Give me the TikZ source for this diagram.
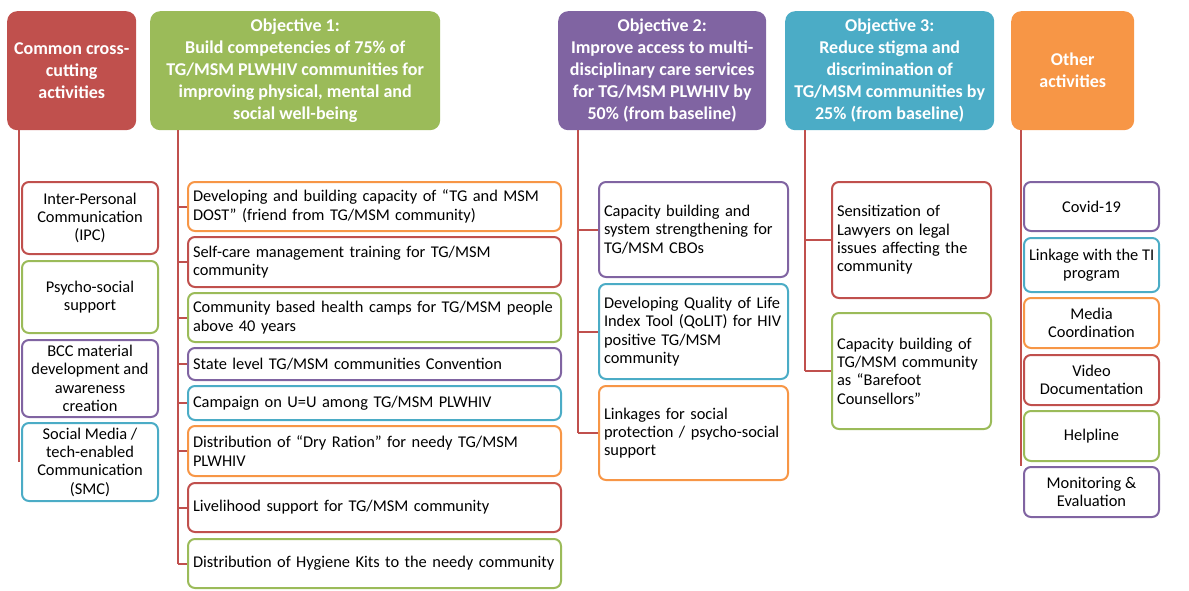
\documentclass[tikz,border=0pt]{standalone}
\usepackage{fontspec}
\setmainfont{Carlito}
\usepackage{xcolor}
\usepackage{tikz}
\definecolor{cRed}{HTML}{C0504D}
\definecolor{cGreen}{HTML}{9BBB59}
\definecolor{cPurple}{HTML}{8064A2}
\definecolor{cCyan}{HTML}{4BACC6}
\definecolor{cOrange}{HTML}{F79646}
\tikzset{
  head/.style={anchor=north west,rounded corners=10pt,text=white,align=center,
    inner sep=0pt,minimum height=119pt,font=\fontsize{18}{22}\selectfont\bfseries},
  item/.style={anchor=north west,draw=#1,line width=2pt,rounded corners=7pt,fill=white,
    inner xsep=5pt,inner ysep=0pt,font=\fontsize{16.4}{18.3}\selectfont},
  midbox/.style={item=#1,align=center,minimum width=136pt},
  trunk/.style={draw=cRed,line width=2pt},
}
\begin{document}
\begin{tikzpicture}[x=1pt,y=-1pt]
    \useasboundingbox (0,0) rectangle (1189,591);
    % headers
    \node[head,fill=cRed,minimum width=129pt] (common) at (7,11) {Common cross-\\cutting\\activities};
    \node[head,fill=cGreen,minimum width=290pt] (obj1) at (150,11) {Objective 1:\\Build competencies of 75\% of\\TG/MSM PLWHIV communities for\\improving physical, mental and\\social well-being};
    \node[head,fill=cPurple,minimum width=208pt] (obj2) at (558,11) {Objective 2:\\Improve access to multi-\\disciplinary care services\\for TG/MSM PLWHIV by\\50\% (from baseline)};
    \node[head,fill=cCyan,minimum width=209pt] (obj3) at (785,11) {Objective 3:\\Reduce stigma and\\discrimination of\\TG/MSM communities by\\25\% (from baseline)};
    \node[head,fill=cOrange,minimum width=123pt] (other) at (1011,11) {Other\\activities};
    % common cross-cutting activities
    \node[midbox=cRed,minimum height=72pt] (cc1) at (21,181) {Inter-Personal\\Communication\\(IPC)};
    \node[midbox=cGreen,minimum height=72pt] (cc2) at (21,260) {Psycho-social\\support};
    \node[midbox=cPurple,minimum height=77pt] (cc3) at (21,339) {BCC material\\development and\\awareness\\creation};
    \node[midbox=cCyan,minimum height=78pt] (cc4) at (21,422) {Social Media /\\tech-enabled\\Communication\\(SMC)};
    % objective 1
    \tikzset{oneb/.style={item=#1,align=left,text width=363pt,minimum width=373pt}}
    \node[oneb=cOrange,minimum height=49pt] (oa1) at (187,181) {Developing and building capacity of “TG and MSM\\DOST” (friend from TG/MSM community)};
    \node[oneb=cRed,minimum height=50pt] (oa2) at (187,236) {Self-care management training for TG/MSM\\community};
    \node[oneb=cGreen,minimum height=49pt] (oa3) at (187,292) {Community based health camps for TG/MSM people\\above 40 years};
    \node[oneb=cPurple,minimum height=32pt] (oa4) at (187,347) {State level TG/MSM communities Convention};
    \node[oneb=cCyan,minimum height=34pt] (oa5) at (187,385) {Campaign on U=U among TG/MSM PLWHIV};
    \node[oneb=cOrange,minimum height=50pt] (oa6) at (187,425) {Distribution of “Dry Ration” for needy TG/MSM\\PLWHIV};
    \node[oneb=cRed,minimum height=49pt] (oa7) at (187,482) {Livelihood support for TG/MSM community};
    \node[oneb=cGreen,minimum height=49pt] (oa8) at (187,538) {Distribution of Hygiene Kits to the needy community};
    % objective 2
    \tikzset{twob/.style={item=#1,align=left,text width=179pt,minimum width=189pt}}
    \node[twob=cPurple,minimum height=95pt] (ob1) at (598,181) {Capacity building and\\system strengthening for\\TG/MSM CBOs};
    \node[twob=cCyan,minimum height=95pt] (ob2) at (598,283) {Developing Quality of Life\\Index Tool (QoLIT) for HIV\\positive TG/MSM\\community};
    \node[twob=cOrange,minimum height=94pt] (ob3) at (598,385) {Linkages for social\\protection / psycho-social\\support};
    % objective 3
    \tikzset{threeb/.style={item=#1,align=left,text width=149pt,minimum width=159pt}}
    \node[threeb=cRed,minimum height=116pt] (oc1) at (831,181) {Sensitization of\\Lawyers on legal\\issues affecting the\\community};
    \node[threeb=cGreen,minimum height=116pt] (oc2) at (831,312) {Capacity building of\\TG/MSM community\\as “Barefoot\\Counsellors”};
    % other activities
    \tikzset{othb/.style={midbox=#1,minimum width=135pt}}
    \node[othb=cPurple,minimum height=49pt] (ot1) at (1023,181) {Covid-19};
    \node[othb=cCyan,minimum height=54pt] (ot2) at (1023,237) {Linkage with the TI\\program};
    \node[othb=cOrange,minimum height=50pt] (ot3) at (1023,297) {Media\\Coordination};
    \node[othb=cRed,minimum height=50pt] (ot4) at (1023,354) {Video\\Documentation};
    \node[othb=cGreen,minimum height=50pt] (ot5) at (1023,410) {Helpline};
    \node[othb=cPurple,minimum height=50pt] (ot6) at (1023,466) {Monitoring \&\\Evaluation};
    % trunks and branches
    \coordinate (t0) at ([xshift=12pt]common.south west);
    \coordinate (t1) at ([xshift=28pt]obj1.south west);
    \coordinate (t2) at ([xshift=20pt]obj2.south west);
    \coordinate (t3) at ([xshift=20pt]obj3.south west);
    \coordinate (t4) at ([xshift=10pt]other.south west);
    \draw[trunk] (t0) -- (t0 |- cc4.west);
    \draw[trunk] (t1) -- (t1 |- oa8.west);
    \draw[trunk] (t2) -- (t2 |- ob3.west);
    \draw[trunk] (t3) -- (t3 |- oc2.west);
    \draw[trunk] (t4) -- (t4 |- ot6.north);
    \foreach \n in {oa1,oa2,oa3,oa4,oa5,oa6,oa7,oa8}
        \draw[trunk] (t1 |- \n.west) -- (\n.west);
    \foreach \n in {ob1,ob2,ob3}
        \draw[trunk] (t2 |- \n.west) -- (\n.west);
    \foreach \n in {oc1,oc2}
        \draw[trunk] (t3 |- \n.west) -- (\n.west);
\end{tikzpicture}
\end{document}
